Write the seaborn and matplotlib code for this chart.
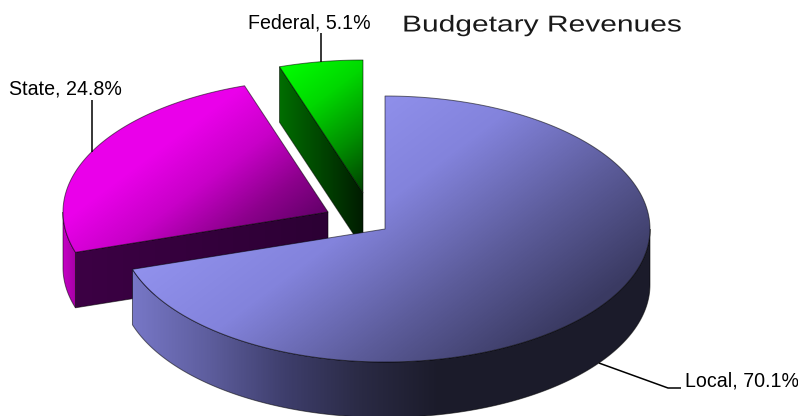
import numpy as np
import matplotlib
matplotlib.use("Agg")
import matplotlib.pyplot as plt
from matplotlib.patches import Polygon
from matplotlib.patheffects import AbstractPathEffect
import seaborn as sns

# Budget shares, in percent
categories = ["Local", "State", "Federal"]
shares = [70.1, 24.8, 5.1]

sns.set_theme(style="white")
plt.rcParams["font.family"] = ["Liberation Sans", "DejaVu Sans"]

W, H = 798, 416
RX, RY, DEPTH = 265.0, 133.0, 55.5

# Slice apex in canvas pixels (each slice is pulled out from the pie)
apexes = {"Local": (385, 229), "State": (328, 212), "Federal": (363, 193)}

# Colour ramps: top face (light to dark), rim (by x), radial face (by x)
top_ramps = {
    "Local": ["#9292ee", "#8383dc", "#5d5d9c", "#3a3a62"],
    "State": ["#ea00ea", "#c800c8", "#8c008c", "#5a0062"],
    "Federal": ["#00ff00", "#00d800", "#009000", "#004000"],
}
rim_ramps = {
    "Local": ["#7878c8", "#5e5e9e", "#3e3e6c", "#2a2a44", "#1b1b2a"],
    "State": ["#c800c8", "#a000a0"],
}
radial_ramps = {
    "State": ["#3c0044", "#2c0034"],
    "Federal": ["#006e00", "#001c00"],
}
top_span = {"Local": (290, 600), "State": (215, 375), "Federal": (221, 372)}
rim_span = {"Local": (130, 440), "State": (62, 78)}
radial_span = {"State": (76, 328), "Federal": (280, 363)}
# Angular stretch of the rim that faces the viewer, clockwise from twelve
rim_limit = {"Local": 90.0, "State": 270.0}

xx, yy = np.meshgrid(np.arange(W) + 0.5, np.arange(H) + 0.5)
diagonal = 0.6 * xx + 0.8 * yy


class StretchX(AbstractPathEffect):
    """Widen drawn text horizontally about a fixed x position (in pixels)."""

    def __init__(self, x0, factor):
        super().__init__()
        self.x0, self.factor = x0, factor

    def draw_path(self, renderer, gc, tpath, affine, rgbFace=None):
        wide = affine.frozen().translate(-self.x0, 0).scale(self.factor, 1).translate(self.x0, 0)
        renderer.draw_path(gc, tpath, wide, rgbFace)


def point(apex, angle, drop=0.0):
    """Point on the pie rim; angle in degrees clockwise from twelve o'clock."""
    a = np.radians(angle)
    return apex[0] + RX * np.sin(a), apex[1] - RY * np.cos(a) + drop


def arc(apex, start, end, drop=0.0):
    angles = np.linspace(start, end, 240)
    x, y = point(apex, angles, drop)
    return np.column_stack([x, y])


def fill(ax, verts, field, span, colors, zorder):
    """Paint a polygon with a smooth ramp evaluated over a pixel field."""
    cmap = sns.blend_palette(colors, n_colors=256, as_cmap=True)
    patch = Polygon(verts, closed=True, facecolor="none", edgecolor="none",
                    transform=ax.transData, zorder=zorder)
    ax.add_patch(patch)
    im = ax.imshow(field, cmap=cmap, vmin=span[0], vmax=span[1],
                   extent=(0, W, H, 0), interpolation="bilinear", zorder=zorder)
    im.set_clip_path(patch)
    ax.add_patch(Polygon(verts, closed=True, facecolor="none",
                         edgecolor=(0, 0, 0, 0.55), linewidth=0.7,
                         zorder=zorder + 0.1))


fig = plt.figure(figsize=(W / 100, H / 100), dpi=100)
ax = fig.add_axes([0, 0, 1, 1])

# Slice angles follow the cumulative shares
bounds = np.concatenate([[0], np.cumsum(shares)]) * 3.6
spans = {c: (bounds[i], bounds[i + 1]) for i, c in enumerate(categories)}

# Back to front: Federal, State, Local
z = 1
for name in ["Federal", "State", "Local"]:
    apex = apexes[name]
    a0, a1 = spans[name]
    outer = arc(apex, a0, a1)
    if name != "Local":
        # Exposed radial face, on the side nearest the viewer
        rim_pt = np.array(point(apex, a0))
        quad = [rim_pt, apex, (apex[0], apex[1] + DEPTH), rim_pt + (0, DEPTH)]
        fill(ax, quad, xx, radial_span[name], radial_ramps[name], z)
    if name in rim_limit:
        lo, hi = sorted((a1 if name == "Local" else a0, rim_limit[name]))
        rim = np.vstack([arc(apex, lo, hi), arc(apex, lo, hi, DEPTH)[::-1]])
        fill(ax, rim, xx, rim_span[name], rim_ramps[name], z + 1)
    fill(ax, np.vstack([[apex], outer]), diagonal, top_span[name],
         top_ramps[name], z + 2)
    z += 3

# Leader lines start at the middle of each slice's rim
leader_kw = dict(color="black", linewidth=1.1, solid_capstyle="butt", zorder=20)
fx, fy = point(apexes["Federal"], np.mean(spans["Federal"]))
ax.plot([fx, fx], [fy, 33], **leader_kw)
sx, sy = point(apexes["State"], np.mean(spans["State"]))
ax.plot([sx, sx], [sy, 100], **leader_kw)
lx, ly = point(apexes["Local"], np.mean(spans["Local"]), DEPTH)
ax.plot([lx, 668, 681], [ly, 388, 388], **leader_kw)

label_kw = dict(fontsize=14.1, color="black", va="center", zorder=21)
ax.text(248, 23, f"Federal, {shares[2]}%", ha="left", **label_kw)
ax.text(9, 89, f"State, {shares[1]}%", ha="left", **label_kw)
ax.text(685, 381, f"Local, {shares[0]}%", ha="left", **label_kw)

ax.set_xlim(0, W)
ax.set_ylim(H, 0)
ax.set_aspect("auto")
ax.axis("off")

# Wide-set heading: stretch the drawn glyphs to the heading's run length
title = ax.text(402, 25, "Budgetary Revenues", fontsize=16.5, color="#1a1a1a",
                ha="left", va="center", zorder=21)
natural = title.get_window_extent(fig.canvas.get_renderer()).width
title.set_path_effects([StretchX(402, 280 / natural)])

fig.savefig("out.png", dpi=100, facecolor="white")
